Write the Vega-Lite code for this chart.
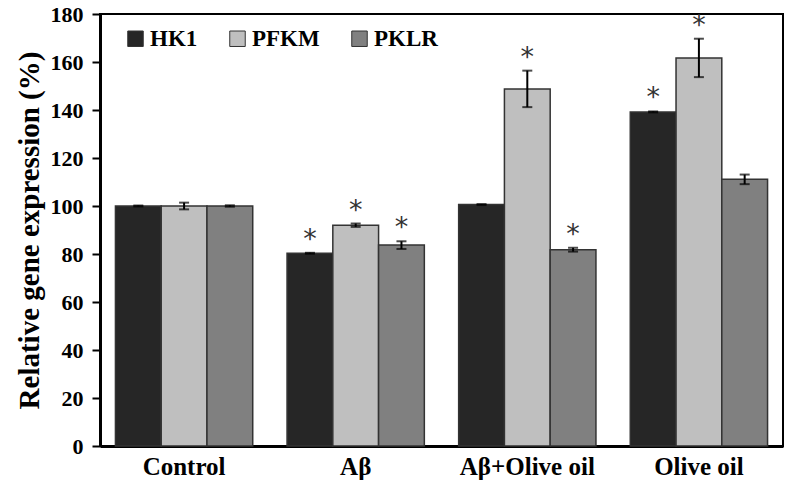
{
  "$schema": "https://vega.github.io/schema/vega-lite/v6.json",
  "width": 683,
  "height": 432,
  "autosize": "none",
  "padding": {"left": 100, "top": 14, "right": 4, "bottom": 37},
  "background": "white",
  "config": {
    "font": "Liberation Serif",
    "view": {"stroke": "black", "strokeWidth": 2},
    "axis": {"labelFont": "Liberation Serif", "titleFont": "Liberation Serif", "labelFontWeight": "bold", "titleFontWeight": "bold", "labelColor": "black", "titleColor": "black", "domainColor": "black", "tickColor": "black", "grid": false}
  },
  "data": {
    "values": [
      {"group": "Control", "gene": "HK1", "value": 100, "lo": 99.8, "hi": 100.2, "sig": false},
      {"group": "Control", "gene": "PFKM", "value": 100, "lo": 98.6, "hi": 101.4, "sig": false},
      {"group": "Control", "gene": "PKLR", "value": 100, "lo": 99.7, "hi": 100.3, "sig": false},
      {"group": "Aβ", "gene": "HK1", "value": 80.3, "lo": 80.1, "hi": 80.5, "sig": true},
      {"group": "Aβ", "gene": "PFKM", "value": 92, "lo": 91.3, "hi": 92.7, "sig": true},
      {"group": "Aβ", "gene": "PKLR", "value": 83.7, "lo": 82.1, "hi": 85.3, "sig": true},
      {"group": "Aβ+Olive oil", "gene": "HK1", "value": 100.6, "lo": 100.4, "hi": 100.8, "sig": false},
      {"group": "Aβ+Olive oil", "gene": "PFKM", "value": 148.8, "lo": 141.2, "hi": 156.4, "sig": true},
      {"group": "Aβ+Olive oil", "gene": "PKLR", "value": 81.8, "lo": 81.0, "hi": 82.6, "sig": true},
      {"group": "Olive oil", "gene": "HK1", "value": 139.2, "lo": 139.0, "hi": 139.4, "sig": true},
      {"group": "Olive oil", "gene": "PFKM", "value": 161.7, "lo": 153.7, "hi": 169.7, "sig": true},
      {"group": "Olive oil", "gene": "PKLR", "value": 111.1, "lo": 109.1, "hi": 113.1, "sig": false}
    ]
  },
  "encoding": {
    "x": {
      "field": "group", "type": "nominal",
      "sort": ["Control", "Aβ", "Aβ+Olive oil", "Olive oil"],
      "scale": {"paddingInner": 0.2, "paddingOuter": 0.09},
      "axis": {"title": null, "labelAngle": 0, "labelFontSize": 25, "ticks": false, "domainWidth": 3, "labelPadding": 8}
    },
    "xOffset": {"field": "gene", "type": "nominal", "sort": ["HK1", "PFKM", "PKLR"]}
  },
  "layer": [
    {
      "mark": {"type": "bar", "stroke": "#333333", "strokeWidth": 1.5},
      "encoding": {
        "y": {
          "field": "value", "type": "quantitative",
          "scale": {"domain": [0, 180]},
          "axis": {"title": "Relative gene expression (%)", "titleFontSize": 29, "titlePadding": 6, "labelFontSize": 22, "values": [0,20,40,60,80,100,120,140,160,180], "tickSize": 8, "tickWidth": 2, "domainWidth": 3, "labelPadding": 9}
        },
        "fill": {
          "field": "gene", "type": "nominal",
          "scale": {"domain": ["HK1", "PFKM", "PKLR"], "range": ["#262626", "#bfbfbf", "#808080"]},
          "legend": {
            "orient": "none", "legendX": 24, "legendY": 13, "direction": "horizontal",
            "title": null, "symbolType": "square", "symbolSize": 240, "symbolStrokeColor": "#333333", "symbolStrokeWidth": 1,
            "labelFontSize": 23, "labelFontWeight": "bold", "labelFont": "Liberation Serif", "labelColor": "black", "columnPadding": 28, "labelOffset": 3
          }
        }
      }
    },
    {
      "mark": {"type": "rule", "color": "black", "strokeWidth": 2},
      "encoding": {
        "y": {"field": "lo", "type": "quantitative"},
        "y2": {"field": "hi"}
      }
    },
    {
      "mark": {"type": "tick", "color": "black", "thickness": 2, "size": 10, "orient": "horizontal"},
      "encoding": {"y": {"field": "lo", "type": "quantitative"}}
    },
    {
      "mark": {"type": "tick", "color": "black", "thickness": 2, "size": 10, "orient": "horizontal"},
      "encoding": {"y": {"field": "hi", "type": "quantitative"}}
    },
    {
      "transform": [{"filter": "datum.sig"}],
      "mark": {"type": "text", "text": "*", "fontSize": 27, "font": "DejaVu Sans", "color": "#333333", "baseline": "middle", "dy": -13},
      "encoding": {"y": {"field": "hi", "type": "quantitative"}}
    }
  ]
}
